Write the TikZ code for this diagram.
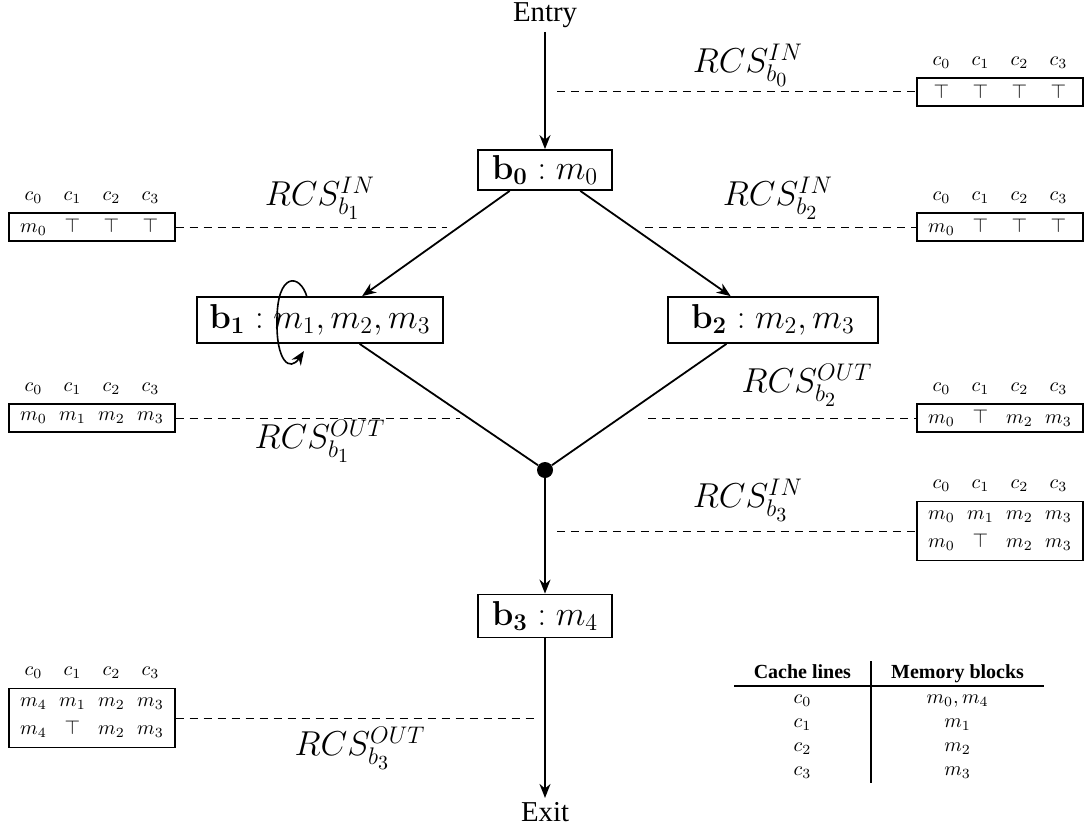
\documentclass[tikz,border=0pt]{standalone}
\usepackage[no-math]{fontspec}
\setmainfont{Liberation Serif}
\usepackage{array}
\usetikzlibrary{arrows.meta,calc}

% one cache-state cell and a row of four of them
\newcommand\cellw[1]{\makebox[19.5pt]{$#1$}}
\newcommand\fourcells[4]{\cellw{#1}\cellw{#2}\cellw{#3}\cellw{#4}}

\tikzset{
  block/.style={draw, line width=0.9pt, font=\LARGE, inner sep=0pt, minimum height=20pt},
  flow/.style={line width=0.9pt, -{Stealth[length=7pt,width=5.5pt]}},
  edge/.style={line width=0.9pt},
  state/.style={draw, line width=0.6pt, inner sep=0pt, minimum width=83pt, minimum height=14pt, align=center},
  statetwo/.style={state, minimum height=29.5pt},
  lines/.style={inner sep=0pt},
  rcs/.style={font=\LARGE, inner sep=0pt},
  link/.style={line width=0.5pt, dash pattern=on 4pt off 3pt},
  term/.style={font=\Large, inner sep=2pt},
  merge/.style={circle, fill, inner sep=0pt, minimum size=8pt},
}

\begin{document}
\begin{tikzpicture}[x=0.5pt,y=-0.5pt]
\useasboundingbox (0,0) rectangle (1087,829);

% control-flow graph
\node[term] (entry) at (545,15) {Entry};
\node[block, minimum width=67pt] (b0) at (545,170) {$\mathbf{b_0}: m_0$};
\node[block, minimum width=123pt, minimum height=23pt] (b1) at (320,320) {$\mathbf{b_1}: m_1, m_2, m_3$};
\node[block, minimum width=105pt, minimum height=23pt] (b2) at (773,320) {$\mathbf{b_2}: m_2, m_3$};
\node[merge] (join) at (545,470) {};
\node[block, minimum width=67pt, minimum height=21.5pt] (b3) at (545,616) {$\mathbf{b_3}: m_4$};
\node[term] (exit) at (545,812) {Exit};

\draw[flow] (entry) -- (b0);
\draw[flow] ($(b0.south west)!0.24!(b0.south east)$) -- ($(b1.north west)!0.67!(b1.north east)$);
\draw[flow] ($(b0.south west)!0.76!(b0.south east)$) -- ($(b2.north west)!0.30!(b2.north east)$);
\draw[edge] ($(b1.south west)!0.66!(b1.south east)$) -- (join);
\draw[edge] ($(b2.south west)!0.28!(b2.south east)$) -- (join);
\draw[flow] (join) -- (b3);
\draw[flow] (b3) -- (exit);

% self loop on b1
\draw[flow, line width=0.8pt] ($(b1.center)+(-13,-23)$)
  .. controls ($(b1.center)+(-20,-47)$) and ($(b1.center)+(-43,-48)$) .. ($(b1.center)+(-43,0)$)
  .. controls ($(b1.center)+(-44,42)$) and ($(b1.center)+(-30,52)$) .. ($(b1.center)+(-16,31)$);

% abstract cache states
\node[state] (s0) at (1000,92) {\fourcells{\top}{\top}{\top}{\top}};
\node[lines] (s0h) at ([yshift=7.5pt]s0.north) {\fourcells{c_0}{c_1}{c_2}{c_3}};

\node[state] (s1) at (92,227) {\fourcells{m_0}{\top}{\top}{\top}};
\node[lines] (s1h) at ([yshift=7.5pt]s1.north) {\fourcells{c_0}{c_1}{c_2}{c_3}};

\node[state] (s2) at (1000,227) {\fourcells{m_0}{\top}{\top}{\top}};
\node[lines] (s2h) at ([yshift=7.5pt]s2.north) {\fourcells{c_0}{c_1}{c_2}{c_3}};

\node[state] (s1o) at (92,418) {\fourcells{m_0}{m_1}{m_2}{m_3}};
\node[lines] (s1oh) at ([yshift=7.5pt]s1o.north) {\fourcells{c_0}{c_1}{c_2}{c_3}};

\node[state] (s2o) at (1000,418) {\fourcells{m_0}{\top}{m_2}{m_3}};
\node[lines] (s2oh) at ([yshift=7.5pt]s2o.north) {\fourcells{c_0}{c_1}{c_2}{c_3}};

\node[statetwo] (s3i) at (1000,531) {\fourcells{m_0}{m_1}{m_2}{m_3}\\[2pt]\fourcells{m_0}{\top}{m_2}{m_3}};
\node[lines] (s3ih) at ([yshift=7.5pt]s3i.north) {\fourcells{c_0}{c_1}{c_2}{c_3}};

\node[statetwo] (s3o) at (92,718) {\fourcells{m_4}{m_1}{m_2}{m_3}\\[2pt]\fourcells{m_4}{\top}{m_2}{m_3}};
\node[lines] (s3oh) at ([yshift=7.5pt]s3o.north) {\fourcells{c_0}{c_1}{c_2}{c_3}};

% links from the edges to their states
\coordinate (p0) at (557,92);
\coordinate (p1) at (447,227);
\coordinate (p2) at (645,227);
\coordinate (p1o) at (460,418);
\coordinate (p2o) at (648,418);
\coordinate (p3i) at (557,531);
\coordinate (p3o) at (538,718);

\draw[link] (p0) -- (s0.west);
\draw[link] (s1.east) -- (p1);
\draw[link] (p2) -- (s2.west);
\draw[link] (s1o.east) -- (p1o);
\draw[link] (p2o) -- (s2o.west);
\draw[link] (p3i) -- (s3i.west);
\draw[link] (s3o.east) -- (p3o);

\node[rcs] (l0) at (748,65) {$RCS^{IN}_{b_0}$};
\node[rcs] (l1) at (320,198) {$RCS^{IN}_{b_1}$};
\node[rcs] (l2) at (778,198) {$RCS^{IN}_{b_2}$};
\node[rcs] (l1o) at (320,441) {$RCS^{OUT}_{b_1}$};
\node[rcs] (l2o) at (807,385) {$RCS^{OUT}_{b_2}$};
\node[rcs] (l3i) at (748,500) {$RCS^{IN}_{b_3}$};
\node[rcs] (l3o) at (360,748) {$RCS^{OUT}_{b_3}$};

% mapping of memory blocks to cache lines
\node[anchor=north, inner sep=0pt] (key) at (889,661) {%
  \setlength\arrayrulewidth{0.6pt}%
  \begin{tabular}{>{\centering\arraybackslash}p{56pt}|>{\centering\arraybackslash}p{74pt}}
    \textbf{Cache lines} & \textbf{Memory blocks}\\ \hline
    $c_0$ & $m_0, m_4$\\
    $c_1$ & $m_1$\\
    $c_2$ & $m_2$\\
    $c_3$ & $m_3$
  \end{tabular}};
\end{tikzpicture}
\end{document}
